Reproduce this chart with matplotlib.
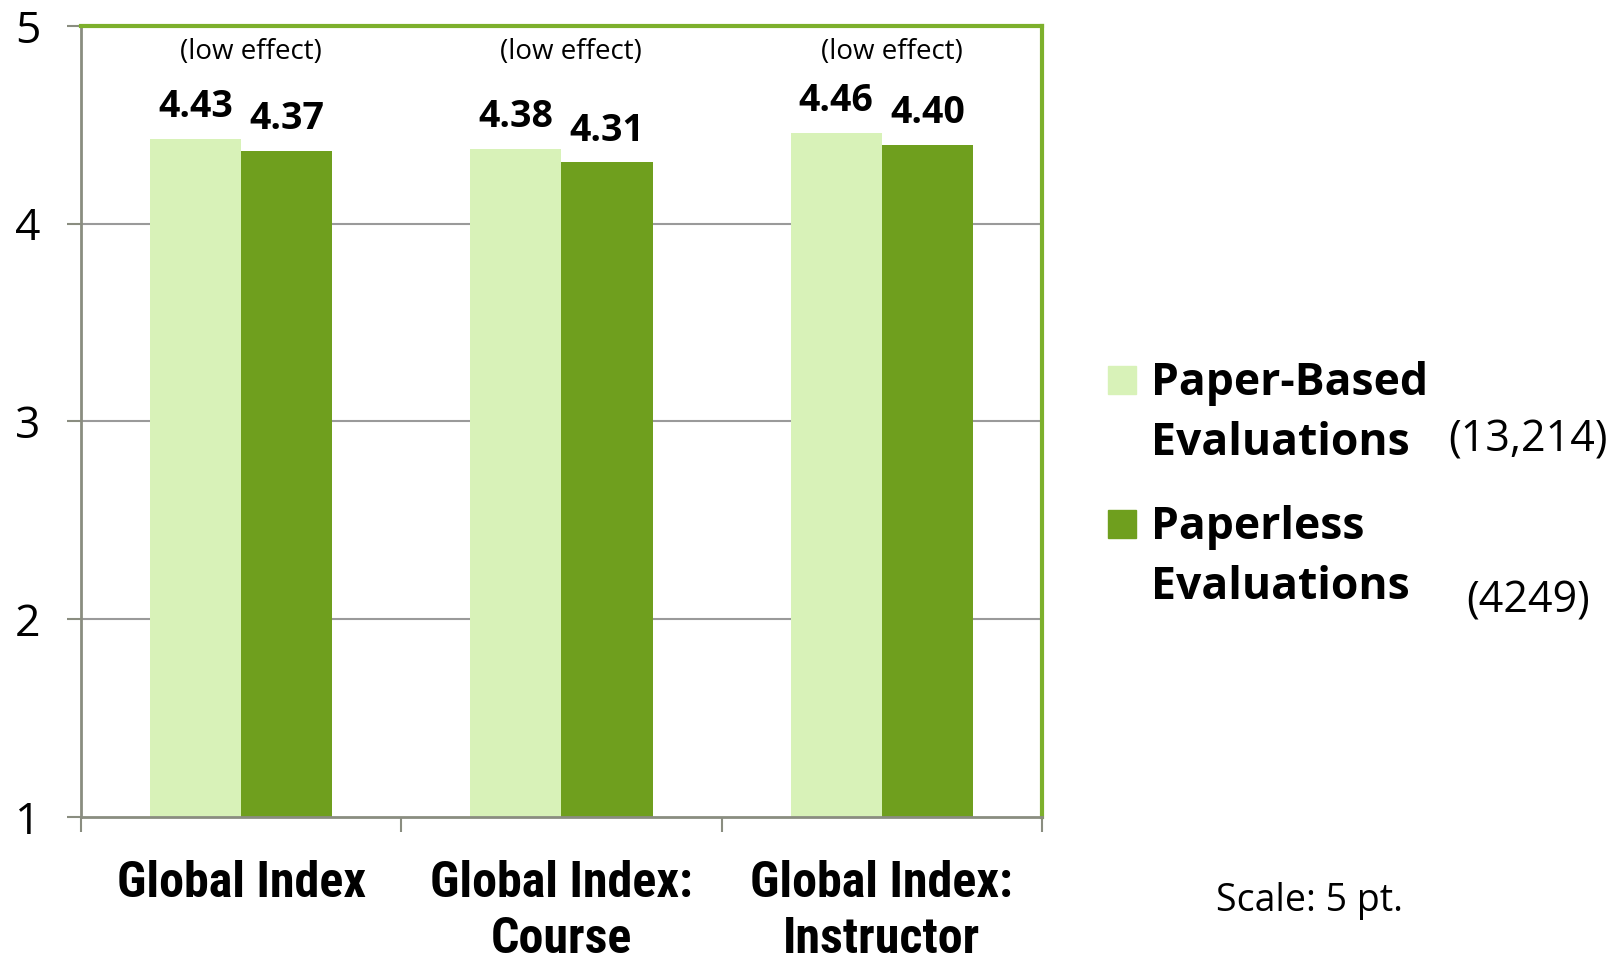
"""
Paper-based vs paperless course evaluations: global index means (5-pt scale).
"""

import numpy as np
import matplotlib
matplotlib.use("Agg")
import matplotlib.pyplot as plt
from matplotlib import font_manager
from matplotlib.patches import Rectangle

# ---------------------------------------------------------------------------
# Data
# ---------------------------------------------------------------------------
categories = ["Global Index", "Global Index:\nCourse", "Global Index:\nInstructor"]
paper_based = [4.43, 4.38, 4.46]
paperless = [4.37, 4.31, 4.40]
effect_notes = ["(low effect)", "(low effect)", "(low effect)"]
series_names = ["Paper-Based\nEvaluations", "Paperless\nEvaluations"]
series_counts = ["(13,214)", "(4249)"]
y_ticks = [1, 2, 3, 4, 5]

LIGHT = "#D8F2B8"
DARK = "#6F9F1E"
FRAME_GREEN = "#7DB02C"
AXIS_GRAY = "#8A8D80"
GRID_GRAY = "#9A9A9A"

# fonts: Calibri-like body, a narrow bold face for the category labels if one exists
installed = {f.name for f in font_manager.fontManager.ttflist}
BODY = ["Open Sans", "DejaVu Sans"]
narrow_choices = [("Roboto Condensed", 36), ("Liberation Sans Narrow", 36),
                  ("Open Sans Condensed", 34), ("DejaVu Sans Condensed", 29)]
NARROW, CAT_SIZE = ["Open Sans", "DejaVu Sans"], 30
for name, size in narrow_choices:
    if name in installed:
        NARROW, CAT_SIZE = [name, "DejaVu Sans"], size
        break
plt.rcParams["font.family"] = BODY

# ---------------------------------------------------------------------------
# Figure
# ---------------------------------------------------------------------------
W, H = 1624, 955
fig = plt.figure(figsize=(W / 100, H / 100), dpi=100)
ax = fig.add_axes([81 / W, 1 - 817 / H, (1042 - 81) / W, (817 - 26) / H])

x = np.arange(len(categories))
bw = 0.285
ax.bar(x - bw / 2, np.array(paper_based) - 1, bw, bottom=1, color=LIGHT, zorder=2)
ax.bar(x + bw / 2, np.array(paperless) - 1, bw, bottom=1, color=DARK, zorder=2)

for xi, v in zip(x - bw / 2, paper_based):
    ax.annotate(f"{v:.2f}", (xi, v), xytext=(0, 9), textcoords="offset points",
                ha="center", va="bottom", fontsize=27, fontweight="bold")
for xi, v in zip(x + bw / 2, paperless):
    ax.annotate(f"{v:.2f}", (xi, v), xytext=(0, 9), textcoords="offset points",
                ha="center", va="bottom", fontsize=27, fontweight="bold")
for xi, note in zip(x, effect_notes):
    ax.text(xi + 0.03, 4.87, note, ha="center", va="center", fontsize=20)

ax.set_xlim(-0.5, 2.5)
ax.set_ylim(1, 5)
ax.set_yticks(y_ticks)
ax.set_yticklabels([str(t) for t in y_ticks], fontsize=32)
ax.tick_params(axis="y", length=10, width=1.5, color=AXIS_GRAY, pad=19)

ax.set_xticks(x)
ax.set_xticklabels(categories, fontsize=CAT_SIZE, fontweight="bold", family=NARROW,
                   linespacing=1.24, va="top")
ax.tick_params(axis="x", length=0, pad=31)
ax.set_xticks(np.arange(-0.5, 3, 1), minor=True)
ax.tick_params(axis="x", which="minor", length=11, width=1.5, color=AXIS_GRAY)

for yv in y_ticks[1:-1]:
    ax.axhline(yv, color=GRID_GRAY, lw=1.5, zorder=1)

for side in ["top", "right"]:
    ax.spines[side].set_color(FRAME_GREEN)
    ax.spines[side].set_linewidth(3)
for side in ["left", "bottom"]:
    ax.spines[side].set_color(AXIS_GRAY)
    ax.spines[side].set_linewidth(2)

# legend laid out by hand, Excel style: swatch beside the first line of each name
legend_tops = [380, 524]  # centre of first text line, px from top
for name, count, color, ty, cy, cx in zip(series_names, series_counts, [LIGHT, DARK],
                                          legend_tops, [440, 601], [1608, 1590]):
    fig.patches.append(Rectangle((1108 / W, 1 - (ty + 14) / H), 28 / W, 28 / H,
                                 transform=fig.transFigure, color=color))
    fig.text(1151 / W, 1 - (ty - 19) / H, name, ha="left", va="top", fontsize=32,
             fontweight="bold", linespacing=1.45)
    fig.text(cx / W, 1 - cy / H, count, ha="right", va="center", fontsize=31)

fig.text(1310 / W, 1 - 901 / H, "Scale: 5 pt.", ha="center", va="center", fontsize=27)

fig.savefig("out.png", dpi=100)
